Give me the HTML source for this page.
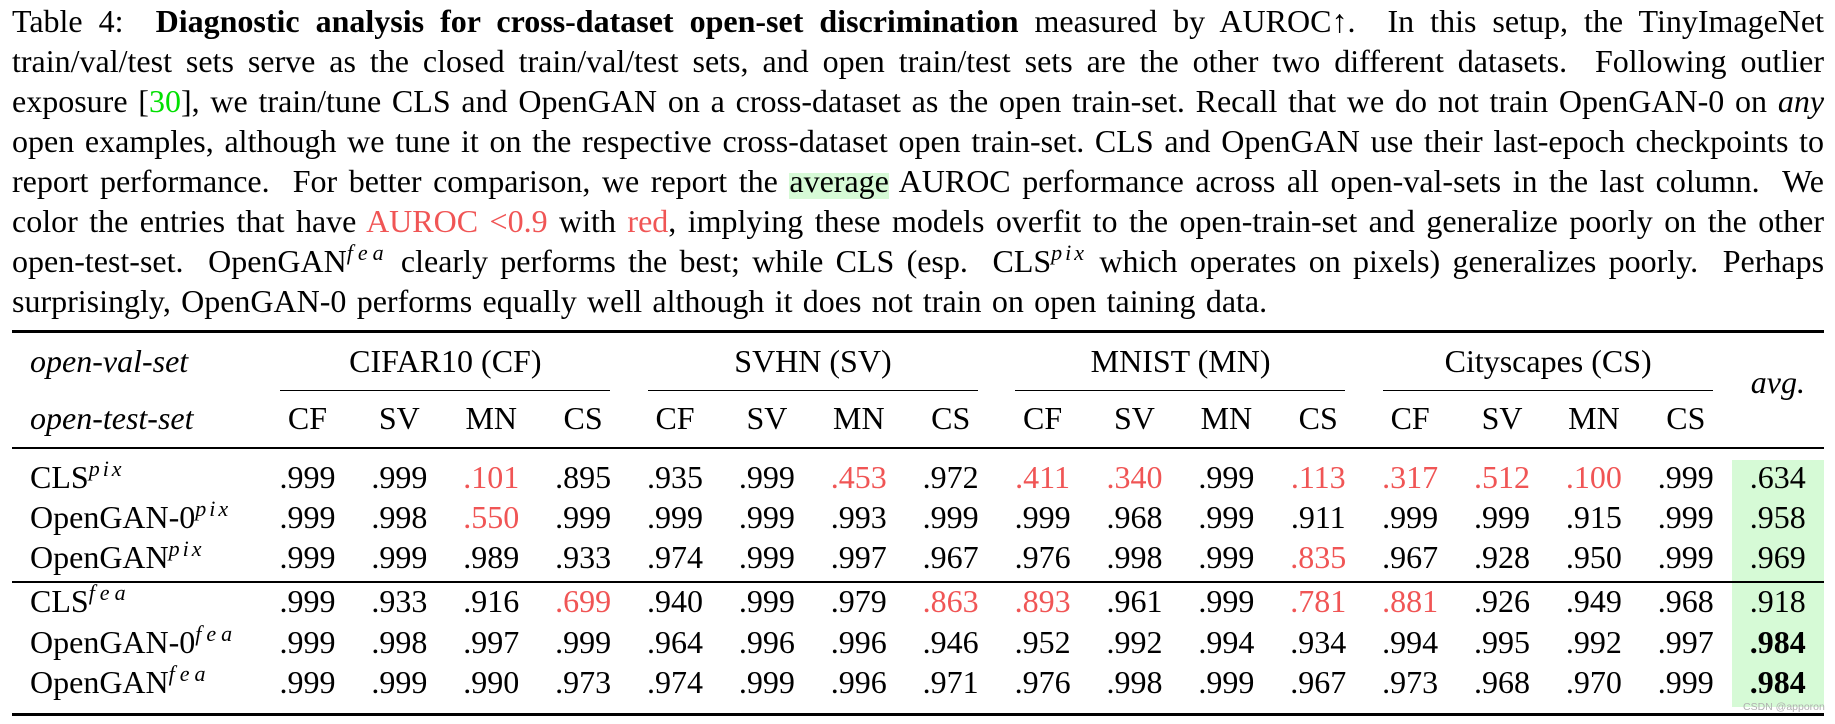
<!DOCTYPE html>
<html><head><meta charset="utf-8">
<style>
html,body{margin:0;padding:0;background:#fff;}
body{width:1835px;height:724px;position:relative;overflow:hidden;font-family:"Liberation Serif","Times New Roman",serif;font-size:32px;color:#000;}
.ln{position:absolute;left:12px;width:1812px;height:40px;line-height:40px;white-space:nowrap;text-align:justify;text-align-last:justify;}
.last{text-align:left;text-align-last:left;word-spacing:2.3px;}
.r{color:#f05555;}
.g{color:#00e000;}
.hl{background:linear-gradient(to bottom,rgba(0,0,0,0) 0,rgba(0,0,0,0) 28%,#d6fad6 28%,#d6fad6 100%);}
.pix,.fea{font-style:italic;font-size:22px;vertical-align:12px;line-height:0;}
.pix{letter-spacing:3px;}
.fea{letter-spacing:5px;}
.rule{position:absolute;background:#000;}
.row{position:absolute;left:261.5px;height:40px;line-height:40px;display:flex;white-space:nowrap;}
.row span.c{display:block;width:91.9px;text-align:center;flex:none;}
.lab{position:absolute;left:30px;height:40px;line-height:40px;white-space:nowrap;}
.grp{position:absolute;width:368px;text-align:center;height:40px;line-height:40px;white-space:nowrap;}
.avgbox{position:absolute;left:1732px;top:460px;width:92px;height:247px;background:#d6fad6;}
.wm{position:absolute;left:1743px;top:701px;font-family:"Liberation Sans",sans-serif;font-size:10.5px;color:#b0b0b0;white-space:nowrap;}
</style></head>
<body>

<div class="ln" style="top:1px">Table 4:&nbsp; <b>Diagnostic analysis for cross-dataset open-set discrimination</b> measured by AUROC↑.&nbsp; In this setup, the TinyImageNet</div>
<div class="ln" style="top:41px">train/val/test sets serve as the closed train/val/test sets, and open train/test sets are the other two different datasets.&nbsp; Following outlier</div>
<div class="ln" style="top:81px">exposure [<span class="g">30</span>], we train/tune CLS and OpenGAN on a cross-dataset as the open train-set. Recall that we do not train OpenGAN-0 on <i>any</i></div>
<div class="ln" style="top:121px">open examples, although we tune it on the respective cross-dataset open train-set. CLS and OpenGAN use their last-epoch checkpoints to</div>
<div class="ln" style="top:161px">report performance.&nbsp; For better comparison, we report the <span class="hl">average</span> AUROC performance across all open-val-sets in the last column.&nbsp; We</div>
<div class="ln" style="top:201px">color the entries that have <span class="r">AUROC &lt;0.9</span> with <span class="r">red</span>, implying these models overfit to the open-train-set and generalize poorly on the other</div>
<div class="ln" style="top:241px">open-test-set.&nbsp; OpenGAN<span class="fea">fea</span> clearly performs the best; while CLS (esp.&nbsp; CLS<span class="pix">pix</span> which operates on pixels) generalizes poorly.&nbsp; Perhaps</div>
<div class="ln last" style="top:281px">surprisingly, OpenGAN-0 performs equally well although it does not train on open taining data.</div>

<div class="avgbox"></div>

<div class="rule" style="left:12px;top:330px;width:1812px;height:3px"></div>
<div class="rule" style="left:280px;top:389.5px;width:330px;height:1.3px"></div>
<div class="rule" style="left:647.6px;top:389.5px;width:330px;height:1.3px"></div>
<div class="rule" style="left:1015.2px;top:389.5px;width:330px;height:1.3px"></div>
<div class="rule" style="left:1382.8px;top:389.5px;width:330px;height:1.3px"></div>
<div class="rule" style="left:12px;top:447px;width:1812px;height:2.2px"></div>
<div class="rule" style="left:12px;top:581px;width:1812px;height:1.5px"></div>
<div class="rule" style="left:12px;top:713px;width:1812px;height:3px"></div>

<div class="lab" style="top:341px"><i>open-val-set</i></div>
<div class="lab" style="top:397.5px"><i>open-test-set</i></div>
<div class="grp" style="left:261.35px;top:341px">CIFAR10 (CF)</div>
<div class="grp" style="left:628.95px;top:341px">SVHN (SV)</div>
<div class="grp" style="left:996.55px;top:341px">MNIST (MN)</div>
<div class="grp" style="left:1364.15px;top:341px">Cityscapes (CS)</div>
<div class="lab" style="left:1731.9px;width:91.9px;text-align:center;top:362px"><i>avg.</i></div>

<div class="row" style="top:397.5px"><span class="c">CF</span><span class="c">SV</span><span class="c">MN</span><span class="c">CS</span><span class="c">CF</span><span class="c">SV</span><span class="c">MN</span><span class="c">CS</span><span class="c">CF</span><span class="c">SV</span><span class="c">MN</span><span class="c">CS</span><span class="c">CF</span><span class="c">SV</span><span class="c">MN</span><span class="c">CS</span></div>

<div class="lab" style="top:457px">CLS<span class="pix">pix</span></div>
<div class="row" style="top:457px"><span class="c">.999</span><span class="c">.999</span><span class="c r">.101</span><span class="c">.895</span><span class="c">.935</span><span class="c">.999</span><span class="c r">.453</span><span class="c">.972</span><span class="c r">.411</span><span class="c r">.340</span><span class="c">.999</span><span class="c r">.113</span><span class="c r">.317</span><span class="c r">.512</span><span class="c r">.100</span><span class="c">.999</span><span class="c">.634</span></div>

<div class="lab" style="top:497px">OpenGAN-0<span class="pix">pix</span></div>
<div class="row" style="top:497px"><span class="c">.999</span><span class="c">.998</span><span class="c r">.550</span><span class="c">.999</span><span class="c">.999</span><span class="c">.999</span><span class="c">.993</span><span class="c">.999</span><span class="c">.999</span><span class="c">.968</span><span class="c">.999</span><span class="c">.911</span><span class="c">.999</span><span class="c">.999</span><span class="c">.915</span><span class="c">.999</span><span class="c">.958</span></div>

<div class="lab" style="top:537px">OpenGAN<span class="pix">pix</span></div>
<div class="row" style="top:537px"><span class="c">.999</span><span class="c">.999</span><span class="c">.989</span><span class="c">.933</span><span class="c">.974</span><span class="c">.999</span><span class="c">.997</span><span class="c">.967</span><span class="c">.976</span><span class="c">.998</span><span class="c">.999</span><span class="c r">.835</span><span class="c">.967</span><span class="c">.928</span><span class="c">.950</span><span class="c">.999</span><span class="c">.969</span></div>

<div class="lab" style="top:581px">CLS<span class="fea">fea</span></div>
<div class="row" style="top:581px"><span class="c">.999</span><span class="c">.933</span><span class="c">.916</span><span class="c r">.699</span><span class="c">.940</span><span class="c">.999</span><span class="c">.979</span><span class="c r">.863</span><span class="c r">.893</span><span class="c">.961</span><span class="c">.999</span><span class="c r">.781</span><span class="c r">.881</span><span class="c">.926</span><span class="c">.949</span><span class="c">.968</span><span class="c">.918</span></div>

<div class="lab" style="top:622px">OpenGAN-0<span class="fea">fea</span></div>
<div class="row" style="top:622px"><span class="c">.999</span><span class="c">.998</span><span class="c">.997</span><span class="c">.999</span><span class="c">.964</span><span class="c">.996</span><span class="c">.996</span><span class="c">.946</span><span class="c">.952</span><span class="c">.992</span><span class="c">.994</span><span class="c">.934</span><span class="c">.994</span><span class="c">.995</span><span class="c">.992</span><span class="c">.997</span><span class="c"><b>.984</b></span></div>

<div class="lab" style="top:662px">OpenGAN<span class="fea">fea</span></div>
<div class="row" style="top:662px"><span class="c">.999</span><span class="c">.999</span><span class="c">.990</span><span class="c">.973</span><span class="c">.974</span><span class="c">.999</span><span class="c">.996</span><span class="c">.971</span><span class="c">.976</span><span class="c">.998</span><span class="c">.999</span><span class="c">.967</span><span class="c">.973</span><span class="c">.968</span><span class="c">.970</span><span class="c">.999</span><span class="c"><b>.984</b></span></div>

<div class="wm">CSDN @apporon</div>

</body></html>
